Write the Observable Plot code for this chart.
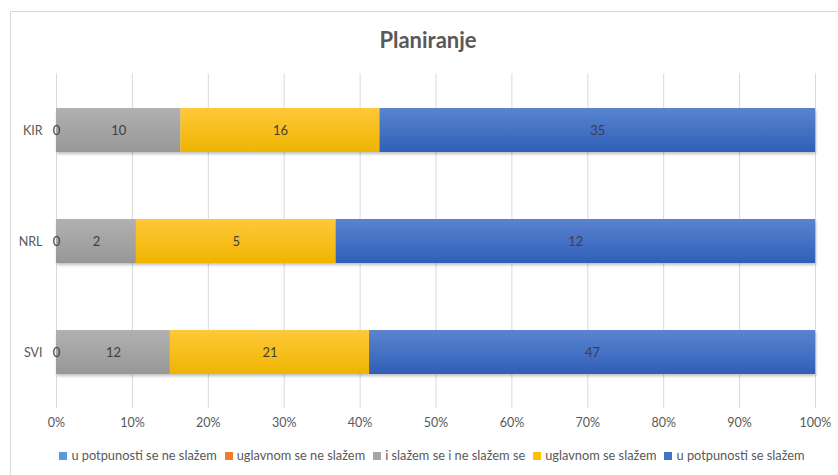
<!DOCTYPE html>
<html>
<head>
<meta charset="utf-8">
<script src="https://cdn.jsdelivr.net/npm/d3@7"></script>
<script src="https://cdn.jsdelivr.net/npm/@observablehq/plot@0.6"></script>
<style>
  html, body { margin: 0; padding: 0; background: #fff; }
  body { width: 838px; height: 475px; overflow: hidden; position: relative; font-family: Lato, "Open Sans", sans-serif; }
  #frame { position: absolute; left: 10px; top: 11px; width: 900px; height: 500px; border-left: 1px solid #d9d9d9; border-top: 1px solid #d9d9d9; }
  #title { position: absolute; left: 0; top: 26px; width: 856px; text-align: center; font-size: 22px; font-weight: bold; color: #595959; }
  #chart { position: absolute; left: 0; top: 62px; }
  #legend { position: absolute; left: 0; top: 447px; width: 864px; text-align: center; font-size: 12.8px; color: #595959; white-space: nowrap; }
  #legend span.item { margin: 0 4px; }
  #legend span.sw { display: inline-block; width: 8px; height: 8px; margin-right: 4px; vertical-align: 0px; }
</style>
</head>
<body>
<div id="frame"></div>
<div id="title">Planiranje</div>
<div id="chart"></div>
<div id="legend"></div>
<script>
const categories = ["KIR", "NRL", "SVI"];
const seriesNames = ["u potpunosti se ne slažem", "uglavnom se ne slažem", "i slažem se i ne slažem se", "uglavnom se slažem", "u potpunosti se slažem"];
const seriesColors = ["#5b9bd5", "#ed7d31", "#a5a5a5", "#ffc000", "#4472c4"];
const gradTop = ["#6aa6dc", "#f08a44", "#b1b1b1", "#ffc83a", "#5a84d0"];
const gradBottom = ["#4d8dc9", "#e06f22", "#979797", "#efb400", "#305fb8"];
const vPotpunoNe = [0, 0, 0];
const vUglavnomNe = [null, null, null];
const vNeutral = [10, 2, 12];
const vUglavnomDa = [16, 5, 21];
const vPotpunoDa = [35, 12, 47];
const xTicks = [0, 0.1, 0.2, 0.3, 0.4, 0.5, 0.6, 0.7, 0.8, 0.9, 1];

const seriesValues = [vPotpunoNe, vUglavnomNe, vNeutral, vUglavnomDa, vPotpunoDa];
const data = [];
seriesNames.forEach((s, si) => {
  categories.forEach((c, ci) => {
    const v = seriesValues[si][ci];
    if (v !== null) data.push({cat: c, series: s, value: v});
  });
});

const plot = Plot.plot({
  width: 838,
  height: 375,
  marginLeft: 56,
  marginRight: 23,
  marginTop: 11.5,
  marginBottom: 29,
  style: {fontFamily: "Lato, 'Open Sans', sans-serif", fontSize: "12.5px", color: "#595959", background: "transparent"},
  x: {domain: [0, 1], ticks: xTicks, tickFormat: d => Math.round(d * 100) + "%", label: null, grid: false},
  y: {domain: categories, paddingInner: 0.6, paddingOuter: 0.3, label: null},
  color: {domain: seriesNames, range: seriesNames.map((s, i) => `url(#grad${i})`)},
  marks: [
    Plot.ruleX(xTicks, {stroke: "#d9d9d9", strokeWidth: 1, strokeOpacity: 1}),
    Plot.barX(data, Plot.stackX({x: "value", y: "cat", fill: "series", order: seriesNames, offset: "normalize", filter: d => d.value > 0})),
    Plot.text(data, Plot.stackX({x: "value", y: "cat", z: "series", order: seriesNames, offset: "normalize", text: d => String(d.value), fill: "#404040", fontSize: 13})),
    Plot.axisX({ticks: xTicks, tickSize: 0, tickPadding: 10, tickFormat: d => Math.round(d * 100) + "%", fill: "#595959", label: null}),
    Plot.axisY({tickSize: 0, tickPadding: 14, fill: "#595959", label: null})
  ]
});

const ns = "http://www.w3.org/2000/svg";
const defs = document.createElementNS(ns, "defs");
seriesNames.forEach((s, i) => {
  const g = document.createElementNS(ns, "linearGradient");
  g.setAttribute("id", "grad" + i);
  g.setAttribute("x1", "0"); g.setAttribute("y1", "0"); g.setAttribute("x2", "0"); g.setAttribute("y2", "1");
  [[0, gradTop[i]], [1, gradBottom[i]]].forEach(([o, c]) => {
    const st = document.createElementNS(ns, "stop");
    st.setAttribute("offset", o);
    st.setAttribute("stop-color", c);
    g.appendChild(st);
  });
  defs.appendChild(g);
});
const f = document.createElementNS(ns, "filter");
f.setAttribute("id", "shadow");
f.setAttribute("x", "-5%"); f.setAttribute("y", "-20%"); f.setAttribute("width", "110%"); f.setAttribute("height", "150%");
const ds = document.createElementNS(ns, "feDropShadow");
ds.setAttribute("dx", "1"); ds.setAttribute("dy", "2"); ds.setAttribute("stdDeviation", "1.5");
ds.setAttribute("flood-color", "#000"); ds.setAttribute("flood-opacity", "0.25");
f.appendChild(ds);
defs.appendChild(f);
plot.insertBefore(defs, plot.firstChild);
const barGroup = plot.querySelectorAll("g[aria-label='bar']")[0];
if (barGroup) barGroup.setAttribute("filter", "url(#shadow)");
document.getElementById("chart").appendChild(plot);

const legend = document.getElementById("legend");
seriesNames.forEach((s, i) => {
  const item = document.createElement("span");
  item.className = "item";
  const sw = document.createElement("span");
  sw.className = "sw";
  sw.style.background = seriesColors[i];
  item.appendChild(sw);
  item.appendChild(document.createTextNode(s));
  legend.appendChild(item);
});
</script>
</body>
</html>
